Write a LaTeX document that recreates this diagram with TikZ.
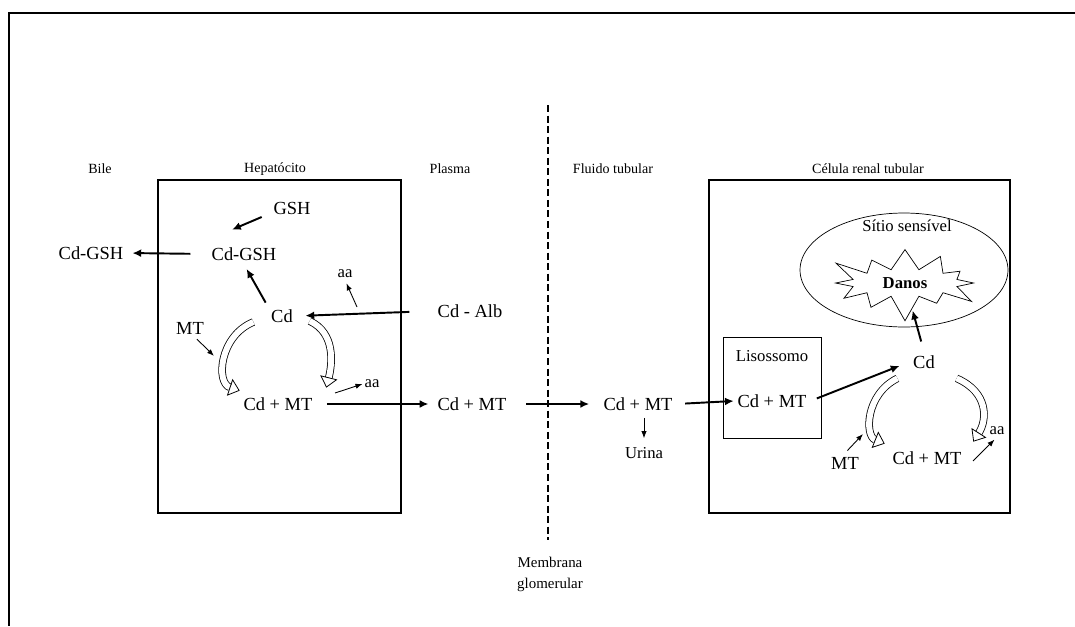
\documentclass[tikz,border=0pt]{standalone}
\usepackage{fontspec}
\setmainfont{Liberation Serif}
\usetikzlibrary{arrows.meta,shapes.geometric,shapes.symbols,calc}

\tikzset{
  especie/.style={font=\fontsize{10.5}{12}\selectfont, inner sep=2pt},
  rotulo/.style={font=\fontsize{8}{9.5}\selectfont},
  pequeno/.style={font=\fontsize{9.5}{11}\selectfont, inner sep=1pt},
  seta/.style={-{Latex[length=5pt,width=4.5pt]}, line width=1.1pt},
  setafina/.style={-{Latex[length=4pt,width=3pt]}, line width=0.5pt},
  oca/.style={double, double distance=3.4pt, line width=0.45pt,
    -{Triangle[open,length=6pt,width=10pt]}},
  celula/.style={line width=1.2pt}
}

\begin{document}
\begin{tikzpicture}[x=0.02cm, y=-0.02cm]
\useasboundingbox (0,0) rectangle (1075,626);

% Moldura
\draw[line width=1pt] (1075,13) -- (9,13) -- (9,626);

% Celulas
\draw[celula] (158,180) rectangle (401,513);
\draw[celula] (709,180) rectangle (1010,513);

% Membrana glomerular
\draw[line width=1.2pt, dash pattern=on 4pt off 2pt] (548,105) -- (548,540);
\node[rotulo, font=\fontsize{8.5}{12}\selectfont, align=center] (membrana) at (550,574)
{Membrana\\glomerular};

% Rotulos
\foreach \x/\nome/\texto in {
100/bile/Bile,
275/hepato/Hepatócito,
450/plasma/Plasma,
613/fluido/Fluido tubular,
868/renal/Célula renal tubular
}
{
\node[rotulo] (\nome) at (\x,169) {\texto};
}

% Hepatocito
\node[especie] (gsh) at (292,208) {GSH};
\node[especie] (cdgshh) at (244,254) {Cd-GSH};
\node[especie] (cdgshb) at (91,253) {Cd-GSH};
\node[especie] (cd) at (282,316) {Cd};
\node[especie] (cdalb) at (470,311) {Cd - Alb};
\node[pequeno] (aa1) at (345,274) {aa};
\node[especie] (mt1) at (190,328) {MT};
\node[especie] (cdmt1) at (278,404) {Cd + MT};
\node[pequeno] (aa2) at (372,384) {aa};
\coordinate (aa1base) at (357,307);
\coordinate (aa2base) at (335,393);
\coordinate (mt1ponta) at (214,356);

\draw[seta] ($(gsh.west)+(-8,9)$) -- ($(cdgshh.north)+(-12,-14)$);
\draw[seta, shorten <=10pt, shorten >=3pt] (cdgshh.west) -- (cdgshb.east);
\draw[seta, shorten <=2pt, shorten >=3pt] (cd.north west) -- (cdgshh.south);
\draw[seta, shorten <=14pt, shorten >=5pt] (cdalb.west) -- (cd.east);
\draw[setafina, shorten >=2pt] (aa1base) -- (aa1.south);
\draw[setafina, shorten <=1pt] (mt1.-60) -- (mt1ponta);
\draw[setafina] (aa2base) -- (aa2.west);
\draw[oca] ($(cd.west)+(-14,6)$) .. controls +(-34,14) and +(-24,-8) .. ($(cdmt1.north west)+(0,-3)$);
\draw[oca] ($(cd.east)+(13,5)$) .. controls +(26,12) and +(6,-24) .. ($(cdmt1.north east)+(10,-6)$);

% Plasma e fluido tubular
\node[especie] (cdmt2) at (472,404) {Cd + MT};
\node[especie] (cdmt3) at (638,404) {Cd + MT};
\node[pequeno] (urina) at (644,453) {Urina};
\draw[seta, shorten <=6pt, shorten >=3pt] (cdmt1.east) -- (cdmt2.west);
\draw[seta, shorten <=9pt, shorten >=6pt] (cdmt2.east) -- (cdmt3.west);
\draw[setafina, shorten <=2pt, shorten >=4pt] (cdmt3.south -| urina) -- (urina.north);

% Celula renal tubular
\node[draw, ellipse, inner sep=0pt, minimum width=4.16cm, minimum height=2.28cm] (sitio) at (904,270) {};
\node[pequeno] (sitiotexto) at (907,226) {Sítio sensível};
\node[draw, starburst, starburst points=12, starburst point height=0.55cm,
  minimum width=3.25cm, minimum height=1.65cm, inner sep=0pt,
  font=\fontsize{9.5}{11}\selectfont\bfseries] (danos) at (905,283) {Danos};
\draw[line width=0.5pt] (723,337) rectangle (821,438);
\node[pequeno] (lisossomo) at (772,356) {Lisossomo};
\node[especie] (cdmt4) at (772,401) {Cd + MT};
\node[especie] (cdr) at (924,362) {Cd};
\node[especie] (mt2) at (845,463) {MT};
\node[especie] (cdmt5) at (927,458) {Cd + MT};
\node[pequeno] (aa3) at (997,431) {aa};
\coordinate (mt2ponta) at (863,434);
\coordinate (aa3base) at (973,461);

\draw[seta, shorten <=5pt] (cdmt3.east) -- (cdmt4.west);
\draw[seta, shorten <=4pt, shorten >=6pt] (cdmt4.east) -- (cdr.west);
\draw[seta, shorten <=6pt, shorten >=1pt] (cdr.north) -- (danos);
\draw[setafina, shorten <=2pt] (mt2.north) -- (mt2ponta);
\draw[setafina, shorten >=2pt] (aa3base) -- (aa3.south);
\draw[oca] ($(cdr.south west)+(-12,6)$) .. controls +(-32,16) and +(-20,-8) .. ($(cdmt5.north west)+(-4,-4)$);
\draw[oca] ($(cdr.south east)+(18,6)$) .. controls +(32,14) and +(14,-22) .. ($(cdmt5.north east)+(8,-6)$);

\end{tikzpicture}
\end{document}
